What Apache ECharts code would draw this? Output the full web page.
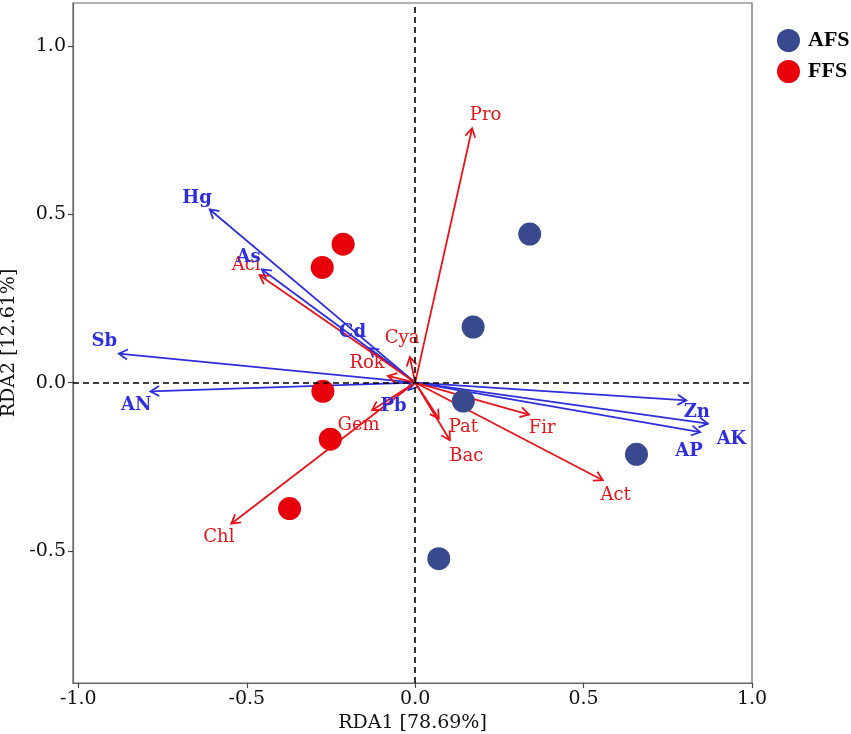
<!DOCTYPE html>
<html>
<head>
<meta charset="utf-8">
<title>RDA</title>
<script src="https://cdn.jsdelivr.net/npm/echarts@6/dist/echarts.min.js"></script>
<style>
    html, body { margin: 0; padding: 0; background: #fff; }
    #chart { width: 851px; height: 734px; }
</style>
</head>
<body>
<div id="chart"></div>
<script>
    // sample scores
    var afsX = [0.340, 0.172, 0.143, 0.657, 0.070];
    var afsY = [0.441, 0.165, -0.055, -0.213, -0.523];
    var ffsX = [-0.214, -0.276, -0.274, -0.252, -0.373];
    var ffsY = [0.411, 0.342, -0.026, -0.168, -0.374];

    // environmental factors: arrow tips and label spots
    var envNames = ['Hg', 'As', 'Cd', 'Sb', 'AN', 'Pb', 'Zn', 'AK', 'AP'];
    var envX = [-0.610, -0.455, -0.136, -0.880, -0.786, -0.020, 0.805, 0.869, 0.846];
    var envY = [0.514, 0.336, 0.102, 0.086, -0.026, -0.022, -0.053, -0.122, -0.147];
    var envLabelX = [-0.648, -0.495, -0.186, -0.923, -0.828, -0.064, 0.836, 0.939, 0.813];
    var envLabelY = [0.547, 0.372, 0.149, 0.121, -0.067, -0.072, -0.089, -0.168, -0.203];

    // phyla: arrow tips and label spots
    var phyNames = ['Pro', 'Aci', 'Cya', 'Rok', 'Gem', 'Chl', 'Pat', 'Bac', 'Fir', 'Act'];
    var phyX = [0.169, -0.462, -0.016, -0.081, -0.128, -0.546, 0.070, 0.103, 0.338, 0.557];
    var phyY = [0.755, 0.319, 0.076, 0.020, -0.082, -0.419, -0.107, -0.171, -0.095, -0.290];
    var phyLabelX = [0.209, -0.502, -0.039, -0.143, -0.168, -0.583, 0.143, 0.152, 0.377, 0.595];
    var phyLabelY = [0.794, 0.348, 0.131, 0.056, -0.127, -0.460, -0.132, -0.219, -0.135, -0.335];

    // tick values
    var xTicks = [-1.0, -0.5, 0.0, 0.5, 1.0];
    var yTicks = [-0.5, 0.0, 0.5, 1.0];

    var blue = '#2e2ede';
    var red = '#e8141a';

    function zip(xs, ys) {
        return xs.map(function (x, i) { return [x, ys[i]]; });
    }

    function arrowItem(color) {
        return function (params, api) {
            var o = api.coord([0, 0]);
            var t = api.coord([api.value(0), api.value(1)]);
            var a = Math.atan2(t[1] - o[1], t[0] - o[0]);
            var h = 10, w = Math.PI / 6;
            return {
                type: 'group',
                children: [
                    {
                        type: 'line',
                        shape: {x1: o[0], y1: o[1], x2: t[0], y2: t[1]},
                        style: {stroke: color, lineWidth: 1.8}
                    },
                    {
                        type: 'polyline',
                        shape: {
                            points: [
                                [t[0] - h * Math.cos(a - w), t[1] - h * Math.sin(a - w)],
                                [t[0], t[1]],
                                [t[0] - h * Math.cos(a + w), t[1] - h * Math.sin(a + w)]
                            ]
                        },
                        style: {stroke: color, lineWidth: 1.8, fill: null}
                    }
                ]
            };
        };
    }

    function labelItem(names, color, font) {
        return function (params, api) {
            var p = api.coord([api.value(0), api.value(1)]);
            return {
                type: 'text',
                style: {
                    x: p[0], y: p[1],
                    text: names[params.dataIndex],
                    fill: color,
                    font: font,
                    align: 'center',
                    verticalAlign: 'middle'
                }
            };
        };
    }

    function axis(ticks, extra) {
        return Object.assign({
            type: 'value',
            splitLine: {show: false},
            axisLine: {show: true, onZero: false, lineStyle: {color: '#666', width: 1.2}},
            axisTick: {show: true, length: 5, customValues: ticks, lineStyle: {color: '#444', width: 1.2}},
            axisLabel: {
                color: '#111', fontSize: 19, fontFamily: 'DejaVu Serif', margin: 7,
                customValues: ticks,
                formatter: function (v) { return v.toFixed(1); }
            },
            nameLocation: 'middle',
            nameTextStyle: {color: '#111', fontSize: 19, fontFamily: 'DejaVu Serif'}
        }, extra);
    }

    var chart = echarts.init(document.getElementById('chart'));
    var option = {
        animation: false,
        backgroundColor: '#fff',
        grid: {
            left: 73, right: 99, top: 3, bottom: 51,
            outerBoundsMode: 'none',
            containLabel: false,
            show: true, borderColor: '#666', borderWidth: 1.2
        },
        legend: {
            orient: 'vertical',
            left: 772, top: 24,
            itemWidth: 23, itemHeight: 23, itemGap: 8,
            icon: 'circle',
            textStyle: {
                color: '#000', fontSize: 22, fontWeight: 'bold',
                fontFamily: 'Liberation Serif', padding: [0, 0, 0, 3]
            },
            data: ['AFS', 'FFS']
        },
        xAxis: axis(xTicks, {min: -1.016, max: 1.0, name: 'RDA1 [78.69%]', nameGap: 27}),
        yAxis: axis(yTicks, {min: -0.892, max: 1.127, name: 'RDA2 [12.61%]', nameGap: 50}),
        series: [
            {
                type: 'scatter',
                data: [],
                silent: true,
                z: 1,
                markLine: {
                    silent: true,
                    symbol: ['none', 'none'],
                    label: {show: false},
                    lineStyle: {color: '#000', type: [6, 4], width: 1.6},
                    data: [{xAxis: 0}, {yAxis: 0}]
                }
            },
            {
                type: 'custom',
                z: 2,
                renderItem: arrowItem(blue),
                data: zip(envX, envY)
            },
            {
                type: 'custom',
                z: 2,
                renderItem: arrowItem(red),
                data: zip(phyX, phyY)
            },
            {
                name: 'AFS',
                type: 'scatter',
                z: 3,
                symbolSize: 23,
                itemStyle: {color: '#39498f', opacity: 1},
                data: zip(afsX, afsY)
            },
            {
                name: 'FFS',
                type: 'scatter',
                z: 3,
                symbolSize: 23,
                itemStyle: {color: '#e8000b', opacity: 1},
                data: zip(ffsX, ffsY)
            },
            {
                type: 'custom',
                z: 4,
                renderItem: labelItem(phyNames, red, '18px "DejaVu Serif"'),
                data: zip(phyLabelX, phyLabelY)
            },
            {
                type: 'custom',
                z: 4,
                renderItem: labelItem(envNames, blue, 'bold 18px "DejaVu Serif"'),
                data: zip(envLabelX, envLabelY)
            }
        ]
    };
    chart.setOption(option);
</script>
</body>
</html>
